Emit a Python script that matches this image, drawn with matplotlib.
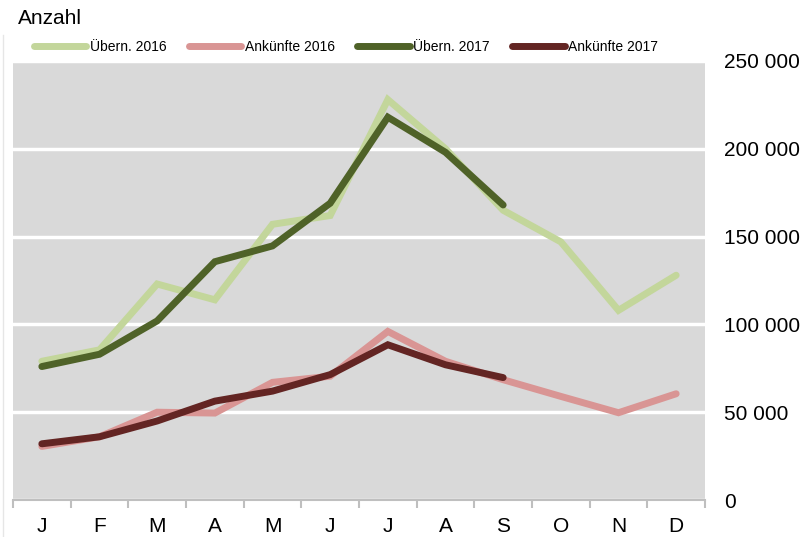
import matplotlib.pyplot as plt
from matplotlib.lines import Line2D
from matplotlib.ticker import FuncFormatter, MultipleLocator

plt.rcParams['font.family'] = ['Liberation Sans', 'DejaVu Sans']

# Daten
monate = ['J', 'F', 'M', 'A', 'M', 'J', 'J', 'A', 'S', 'O', 'N', 'D']
uebern_2016 = [79000, 85500, 123000, 114000, 157000, 162000, 228000, 200000, 165000, 147000, 108000, 128000]
ankuenfte_2016 = [30500, 36000, 50000, 49500, 67000, 70500, 96000, 79000, 68500, 59000, 49700, 60500]
uebern_2017 = [76000, 83000, 102000, 135700, 144700, 169000, 218000, 198000, 168000]
ankuenfte_2017 = [32000, 36000, 45000, 56300, 62000, 71400, 88400, 77000, 69700]

fig = plt.figure(figsize=(8.05, 5.37), dpi=100)
ax = fig.add_axes([13 / 805, 1 - 500 / 537, 692 / 805, 439 / 537])
ax.set_facecolor('#d9d9d9')

x16 = range(len(uebern_2016))
x17 = range(len(uebern_2017))
ax.plot(x16, uebern_2016, color='#c3d69b', lw=5, solid_capstyle='round', solid_joinstyle='miter', label='Übern. 2016', zorder=3)
ax.plot(x16, ankuenfte_2016, color='#d99594', lw=5, solid_capstyle='round', solid_joinstyle='miter', label='Ankünfte 2016', zorder=3)
ax.plot(x17, uebern_2017, color='#4f6228', lw=5, solid_capstyle='round', solid_joinstyle='miter', label='Übern. 2017', zorder=4)
ax.plot(x17, ankuenfte_2017, color='#632523', lw=5, solid_capstyle='round', solid_joinstyle='miter', label='Ankünfte 2017', zorder=4)

ax.set_xlim(-0.5, 11.5)
ax.set_ylim(0, 250000)

# Gitter
ax.yaxis.set_major_locator(MultipleLocator(50000))
ax.grid(axis='y', color='white', lw=2.5, zorder=1)
ax.set_axisbelow(True)

# Achsen
for s in ['top', 'left', 'right']:
    ax.spines[s].set_visible(False)
ax.spines['bottom'].set_color('#bfbfbf')
ax.spines['bottom'].set_linewidth(1.5)

ax.set_xticks(range(12))
ax.set_xticklabels(monate, fontsize=15)
ax.set_xticks([i - 0.5 for i in range(13)], minor=True)
ax.tick_params(axis='x', which='major', length=0, pad=12)
ax.tick_params(axis='x', which='minor', length=6, width=1.5, color='#bfbfbf', direction='out')

ax.yaxis.tick_right()
ax.yaxis.set_major_formatter(FuncFormatter(lambda v, p: f'{int(v):,}'.replace(',', ' ')))
ax.tick_params(axis='y', length=0, pad=14, labelsize=15)
for lab in ax.get_yticklabels():
    lab.set_horizontalalignment('left')

fig.text(18 / 805, 1 - 18 / 537, 'Anzahl', fontsize=15, va='center', ha='left')

fig.legend(loc='center left', bbox_to_anchor=(28 / 805, 1 - 47 / 537), ncol=4, frameon=False,
           fontsize=10, handlelength=3.8, handletextpad=0.25, columnspacing=1.6, borderaxespad=0)

# dünne Randlinie links
fig.add_artist(Line2D([3 / 805, 3 / 805], [0, 1 - 35 / 537], color='#e6e6e6', lw=1))

fig.savefig('out.png', dpi=100)
